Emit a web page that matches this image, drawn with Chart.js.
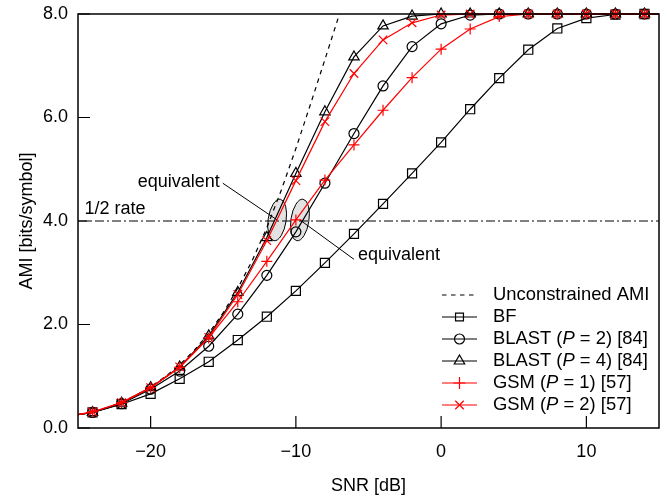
<!DOCTYPE html>
<html><head><meta charset="utf-8">
<script src="https://cdn.jsdelivr.net/npm/chart.js@4"></script>
<style>html,body{margin:0;padding:0;background:#fff}#wrap{width:667px;height:497px}</style>
</head><body><div id="wrap"><canvas id="c" width="667" height="497"></canvas></div>
<script>
// ---- data ----
const SNR      = [-25, -24, -22, -20, -18, -16, -14, -12, -10, -8, -6, -4, -2, 0, 2, 4, 6, 8, 10, 12, 14, 15];
const BF       = [0.26, 0.30, 0.46, 0.66, 0.95, 1.28, 1.70, 2.15, 2.65, 3.19, 3.75, 4.33, 4.92, 5.52, 6.16, 6.76, 7.31, 7.72, 7.92, 7.99, 8.0, 8.0];
const BLAST_P2 = [0.26, 0.30, 0.47, 0.75, 1.10, 1.58, 2.20, 2.95, 3.79, 4.73, 5.69, 6.61, 7.37, 7.81, 7.98, 8.0, 8.0, 8.0, 8.0, 8.0, 8.0, 8.0];
const BLAST_P4 = [0.26, 0.30, 0.48, 0.78, 1.18, 1.78, 2.62, 3.68, 4.92, 6.11, 7.17, 7.77, 7.96, 8.0, 8.0, 8.0, 8.0, 8.0, 8.0, 8.0, 8.0, 8.0];
const GSM_P1   = [0.26, 0.31, 0.49, 0.78, 1.17, 1.74, 2.44, 3.22, 4.02, 4.79, 5.47, 6.14, 6.77, 7.32, 7.71, 7.95, 8.0, 8.0, 8.0, 8.0, 8.0, 8.0];
const GSM_P2   = [0.26, 0.31, 0.49, 0.78, 1.18, 1.75, 2.58, 3.62, 4.78, 5.92, 6.85, 7.50, 7.83, 7.98, 8.0, 8.0, 8.0, 8.0, 8.0, 8.0, 8.0, 8.0];
const UNC_SNR  = [-25, -24, -23, -22, -21, -20, -19, -18, -17, -16, -15, -14, -13, -12, -11, -10, -9, -8, -7, -6];
const UNC_AMI  = [0.26, 0.31, 0.39, 0.50, 0.63, 0.80, 0.99, 1.22, 1.50, 1.83, 2.23, 2.70, 3.24, 3.87, 4.60, 5.40, 6.25, 7.12, 8.0, 8.87];
const SERIES_NAMES = ['Unconstrained AMI', 'BF', 'BLAST (P = 2) [84]', 'BLAST (P = 4) [84]', 'GSM (P = 1) [57]', 'GSM (P = 2) [57]'];
const X_TICKS = [-20, -10, 0, 10];
const Y_TICKS = [0, 2, 4, 6, 8];
const RATE_LEVEL = 4.0;
const EQUIV_CENTERS = [[-11.29, 4.02], [-9.72, 4.02]];

const FONT = '"Liberation Sans", Arial, Helvetica, sans-serif';
Chart.defaults.font.family = FONT;
Chart.defaults.font.size = 18;
Chart.defaults.color = '#000';

const pts = (xs, ys) => xs.map((x, i) => ({x: x, y: ys[i]}));
const markerRadius = r => ctx => (ctx.raw && ctx.raw.x % 2 === 0) ? r : 0;

function series(label, ys, color, style, r, order) {
  return {
    label, data: pts(SNR, ys), showLine: true, borderColor: color, borderWidth: 1.2,
    pointStyle: style, pointRadius: markerRadius(r), pointBorderColor: color,
    pointBackgroundColor: 'rgba(0,0,0,0)', pointBorderWidth: 1.2,
    clip: {left: 0, top: 9, right: 9, bottom: 0}, order
  };
}

const datasets = [
  {label: SERIES_NAMES[0], data: pts(UNC_SNR, UNC_AMI), showLine: true, borderColor: '#000',
   borderWidth: 1.2, borderDash: [4.5, 4.5], pointRadius: 0, clip: 0, order: 6},
  series(SERIES_NAMES[1], BF, '#000', 'rect', 6.4, 5),
  series(SERIES_NAMES[2], BLAST_P2, '#000', 'circle', 5, 4),
  series(SERIES_NAMES[3], BLAST_P4, '#000', 'triangle', 6, 3),
  series(SERIES_NAMES[4], GSM_P1, '#ff0000', 'cross', 5.5, 2),
  series(SERIES_NAMES[5], GSM_P2, '#ff0000', 'crossRot', 6, 1)
];

const annot = {
  id: 'annot',
  beforeDatasetsDraw(chart) {
    const {ctx, chartArea: a, scales: {x, y}} = chart;
    ctx.save();
    // ellipses
    EQUIV_CENTERS.forEach(([cx, cy]) => {
      ctx.beginPath();
      ctx.ellipse(x.getPixelForValue(cx), y.getPixelForValue(cy), 9, 21, 0.15, 0, Math.PI * 2);
      ctx.fillStyle = '#e2e2e2'; ctx.fill();
      ctx.lineWidth = 1; ctx.strokeStyle = '#000'; ctx.stroke();
    });
    // 1/2 rate line
    const yr = y.getPixelForValue(RATE_LEVEL);
    ctx.setLineDash([9, 3, 2, 3]);
    ctx.lineWidth = 1; ctx.strokeStyle = '#000';
    ctx.beginPath(); ctx.moveTo(a.left, yr); ctx.lineTo(a.right, yr); ctx.stroke();
    ctx.setLineDash([]);
    // leader lines
    const seg = (x1, y1, x2, y2) => {
      ctx.beginPath();
      ctx.moveTo(x.getPixelForValue(x1), y.getPixelForValue(y1));
      ctx.lineTo(x.getPixelForValue(x2), y.getPixelForValue(y2));
      ctx.stroke();
    };
    seg(-15.03, 4.73, EQUIV_CENTERS[0][0], EQUIV_CENTERS[0][1]);
    seg(EQUIV_CENTERS[1][0], EQUIV_CENTERS[1][1], -6.0, 3.26);
    // texts
    ctx.fillStyle = '#000';
    ctx.font = '18px ' + FONT;
    ctx.textBaseline = 'middle';
    ctx.textAlign = 'right';
    ctx.fillText('equivalent', x.getPixelForValue(-15.24), y.getPixelForValue(4.76));
    ctx.textAlign = 'left';
    ctx.fillText('equivalent', x.getPixelForValue(-5.72), y.getPixelForValue(3.34));
    ctx.fillText('1/2 rate', x.getPixelForValue(-24.55), y.getPixelForValue(4.23));
    ctx.restore();
  },
  afterDraw(chart) {
    const {ctx, chartArea: a, scales: {x, y}} = chart;
    ctx.save();
    ctx.strokeStyle = '#000';
    ctx.lineWidth = 1.5;
    ctx.strokeRect(a.left, a.top, a.right - a.left, a.bottom - a.top);
    ctx.lineWidth = 1.2;
    ctx.beginPath();
    X_TICKS.forEach(v => { const p = x.getPixelForValue(v); ctx.moveTo(p, a.bottom); ctx.lineTo(p, a.bottom - 12); });
    Y_TICKS.forEach(v => { const p = y.getPixelForValue(v); ctx.moveTo(a.left, p); ctx.lineTo(a.left + 12, p); });
    ctx.stroke();
    // legend
    const x0 = a.right - 217, x1 = a.right - 182, xt = a.right - 166;
    let yy = a.bottom - 133;
    ctx.textBaseline = 'middle';
    ctx.textAlign = 'left';
    chart.data.datasets.forEach(ds => {
      ctx.strokeStyle = ds.borderColor;
      ctx.lineWidth = ds.borderWidth;
      ctx.setLineDash(ds.borderDash || []);
      ctx.beginPath(); ctx.moveTo(x0, yy); ctx.lineTo(x1, yy); ctx.stroke();
      ctx.setLineDash([]);
      if (ds.pointStyle) {
        ctx.fillStyle = 'rgba(0,0,0,0)';
        ctx.strokeStyle = ds.pointBorderColor;
        ctx.lineWidth = ds.pointBorderWidth;
        const r = ds.pointStyle === 'rect' ? 5.6 : ds.pointStyle === 'triangle' ? 6 : ds.pointStyle === 'circle' ? 5 : 6;
        Chart.helpers.drawPoint(ctx, {pointStyle: ds.pointStyle, radius: r, rotation: 0, borderWidth: ds.pointBorderWidth}, (x0 + x1) / 2, yy);
      }
      // text with italic P
      ctx.fillStyle = '#000';
      let tx = xt;
      ds.label.split(/(\bP\b)/).forEach(part => {
        if (!part) return;
        ctx.font = (part === 'P' ? 'italic ' : '') + '18.4px ' + FONT;
        ctx.fillText(part, tx, yy);
        tx += ctx.measureText(part).width;
      });
      yy += 22;
    });
    ctx.restore();
  }
};

new Chart(document.getElementById('c'), {
  type: 'scatter',
  data: {datasets},
  options: {
    responsive: false, devicePixelRatio: 1, animation: false, events: [],
    layout: {padding: {top: 14, right: 8, bottom: 0, left: 0}},
    plugins: {legend: {display: false}, tooltip: {enabled: false}},
    scales: {
      x: {
        type: 'linear', min: -25, max: 15,
        grid: {display: false, drawTicks: false}, border: {display: false},
        afterBuildTicks: s => { s.ticks = X_TICKS.map(v => ({value: v})); },
        afterFit: s => { s.height = 69; s.paddingLeft = 0; s.paddingRight = 0; },
        ticks: {padding: 13, maxRotation: 0, color: '#000', font: {size: 18},
                callback: v => (v < 0 ? '\u2212' + Math.abs(v) : String(v))},
        title: {display: true, text: 'SNR [dB]', color: '#000', font: {size: 18}, padding: {top: 0, bottom: 0}}
      },
      y: {
        type: 'linear', min: 0, max: 8,
        grid: {display: false, drawTicks: false}, border: {display: false},
        afterBuildTicks: s => { s.ticks = Y_TICKS.map(v => ({value: v})); },
        afterFit: s => { s.width = 78; s.paddingTop = 0; s.paddingBottom = 0; },
        ticks: {padding: 10, color: '#000', font: {size: 18}, callback: v => Number(v).toFixed(1)},
        title: {display: true, text: 'AMI [bits/symbol]', color: '#000', font: {size: 18}, padding: {top: 16, bottom: 0}}
      }
    }
  },
  plugins: [annot]
});
</script></body></html>
